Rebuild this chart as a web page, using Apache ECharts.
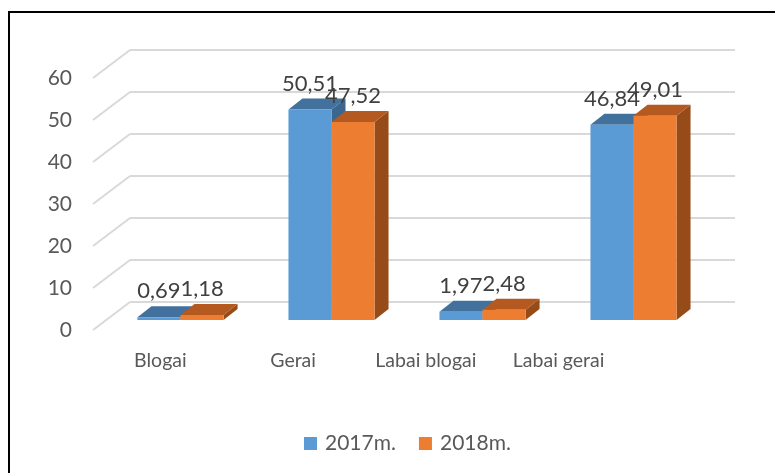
<!DOCTYPE html>
<html>
<head>
<meta charset="utf-8">
<script src="https://cdn.jsdelivr.net/npm/echarts@6/dist/echarts.min.js"></script>
<style>
  html, body { margin: 0; padding: 0; background: #fff; }
  #chart { width: 775px; height: 473px; }
</style>
</head>
<body>
<div id="chart"></div>
<script>
// duomenys
var categories = ['Blogai', 'Gerai', 'Labai blogai', 'Labai gerai'];
var values2017 = [0.69, 50.51, 1.97, 46.84];
var values2018 = [1.18, 47.52, 2.48, 49.01];
var yTicks = [0, 10, 20, 30, 40, 50, 60];
var seriesNames = ['2017m.', '2018m.'];

var FONT = 'Lato, "Open Sans", sans-serif';
// spalvos: priekis, virsus, sonas
var blueCols = ['#5B9BD5', '#41719C', '#3A6690'];
var orangeCols = ['#ED7D31', '#B4591F', '#974B18'];

function fmt(v) {
  return v.toFixed(2).replace('.', ',');
}

// 3D stulpelis is custom serijos
function makeBar(side, cols) {
  return function (params, api) {
    var cat = api.value(0), val = api.value(1);
    var top = api.coord([cat, val]);
    var base = api.coord([cat, 0]);
    var band = api.size([1, 0])[0];
    var w = band * 0.285;
    var x0 = side === 0 ? top[0] - w : top[0];
    var x1 = x0 + w;
    var yT = top[1], yB = base[1];
    var dx = 14, dy = -11;
    return {
      type: 'group',
      children: [
        { type: 'polygon', shape: { points: [[x1, yB], [x1, yT], [x1 + dx, yT + dy], [x1 + dx, yB + dy]] }, style: { fill: cols[2] } },
        { type: 'polygon', shape: { points: [[x0, yT], [x1, yT], [x1 + dx, yT + dy], [x0 + dx, yT + dy]] }, style: { fill: cols[1] } },
        { type: 'rect', shape: { x: x0, y: yT, width: w, height: yB - yT }, style: { fill: cols[0] } },
        {
          type: 'text', z2: 100,
          style: {
            text: fmt(val), x: (x0 + x1) / 2, y: yT - 26,
            align: 'center', verticalAlign: 'middle',
            fill: '#404040', font: '22px ' + FONT
          }
        }
      ]
    };
  };
}

// kaires sienos istrizos linijos
function wallLine(params, api) {
  var p = api.coord([0, api.value(1)]);
  var x = params.coordSys.x - 1;
  return {
    type: 'line',
    shape: { x1: x, y1: p[1], x2: x + 37, y2: p[1] - 28 },
    style: { stroke: '#D9D9D9', lineWidth: 2 }
  };
}

var chart = echarts.init(document.getElementById('chart'));

var option = {
  backgroundColor: '#fff',
  animation: false,
  graphic: [{
    type: 'rect', silent: true,
    shape: { x: 9, y: 12, width: 800, height: 500 },
    style: { fill: 'none', stroke: '#000', lineWidth: 2 }
  }],
  legend: {
    left: 299, top: 428,
    itemWidth: 13, itemHeight: 13, itemGap: 23,
    textStyle: { fontSize: 21, color: '#595959', fontFamily: FONT, padding: [0, 0, 0, 3] },
    data: [
      { name: seriesNames[0], icon: 'rect', itemStyle: { color: blueCols[0] } },
      { name: seriesNames[1], icon: 'rect', itemStyle: { color: orangeCols[0] } }
    ]
  },
  grid: [
    { left: 130, right: 40, top: 50, bottom: 171 },   // galine siena
    { left: 94, right: 150, top: 78, bottom: 143 },   // asiu uzrasai
    { left: 105, right: 66, top: 70, bottom: 153 }    // stulpeliai
  ],
  xAxis: [
    { gridIndex: 0, type: 'category', data: categories, show: false },
    {
      gridIndex: 1, type: 'category', data: categories,
      axisLine: { show: false }, axisTick: { show: false },
      axisLabel: { margin: 21, fontSize: 19.5, color: '#595959', fontFamily: FONT }
    },
    { gridIndex: 2, type: 'category', data: categories, show: false }
  ],
  yAxis: [
    {
      gridIndex: 0, type: 'value', min: 0, max: 60, interval: 10,
      axisLine: { show: false }, axisTick: { show: false }, axisLabel: { show: false },
      splitLine: { lineStyle: { color: '#D9D9D9', width: 2 } }
    },
    {
      gridIndex: 1, type: 'value', min: 0, max: 60, interval: 10,
      axisLine: { show: false }, axisTick: { show: false }, splitLine: { show: false },
      axisLabel: { margin: 22, fontSize: 21, color: '#595959', fontFamily: FONT }
    },
    { gridIndex: 2, type: 'value', min: 0, max: 60, show: false, splitLine: { show: false } }
  ],
  series: [
    {
      type: 'custom', xAxisIndex: 1, yAxisIndex: 1, silent: true,
      renderItem: wallLine,
      data: yTicks.map(function (v) { return [0, v]; })
    },
    {
      name: seriesNames[0], type: 'custom', xAxisIndex: 2, yAxisIndex: 2,
      itemStyle: { color: blueCols[0] },
      renderItem: makeBar(0, blueCols),
      data: values2017.map(function (v, i) { return [i, v]; })
    },
    {
      name: seriesNames[1], type: 'custom', xAxisIndex: 2, yAxisIndex: 2,
      itemStyle: { color: orangeCols[0] },
      renderItem: makeBar(1, orangeCols),
      data: values2018.map(function (v, i) { return [i, v]; })
    }
  ]
};

chart.setOption(option);
</script>
</body>
</html>
